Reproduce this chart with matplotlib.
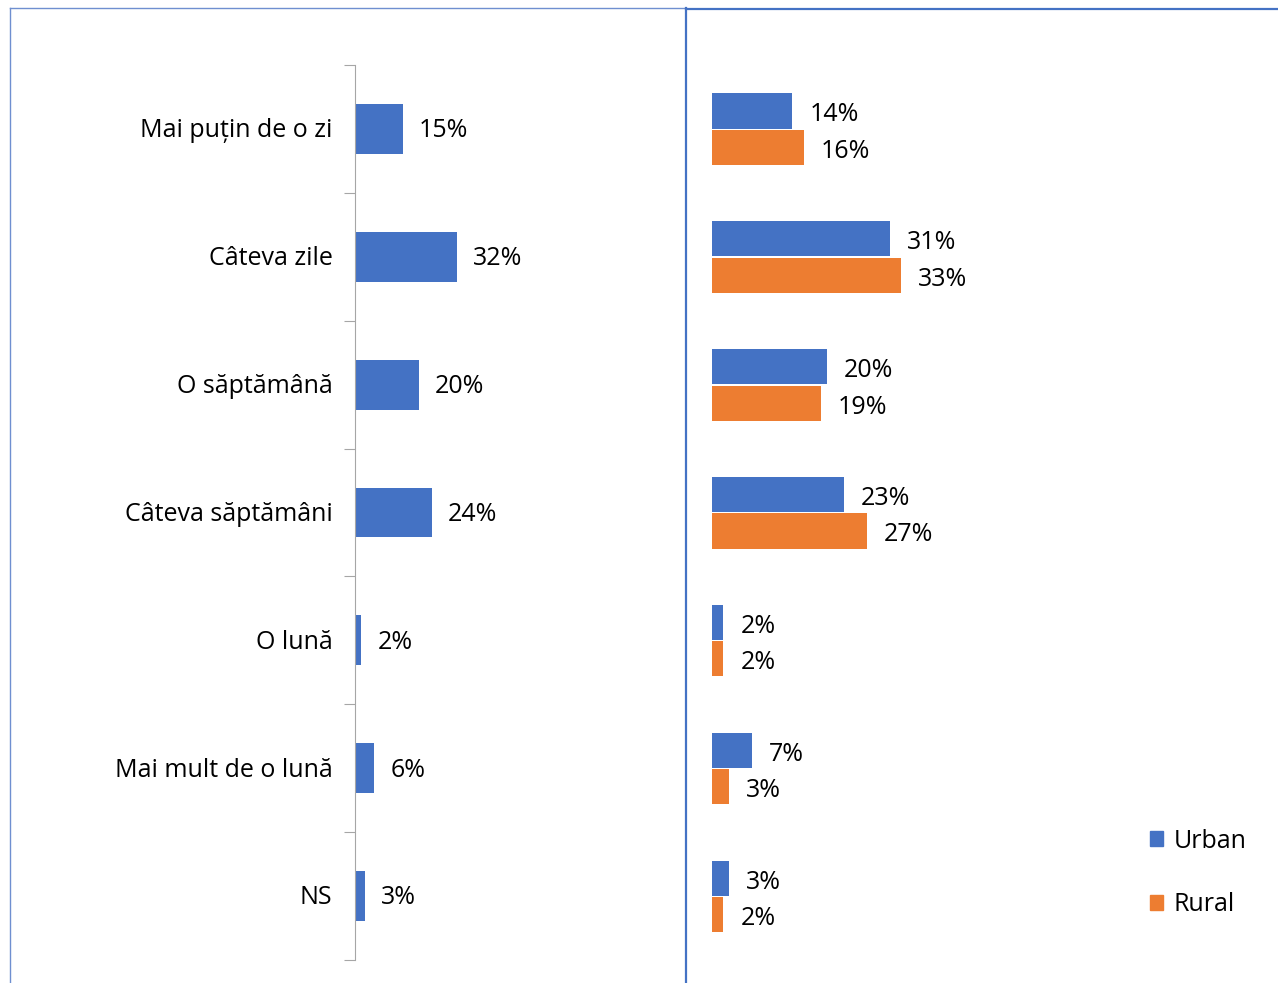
import matplotlib.pyplot as plt
import numpy as np
from matplotlib.lines import Line2D
from matplotlib.patches import Patch

plt.rcParams['font.family'] = ['Open Sans', 'DejaVu Sans']

categories = ['Mai puțin de o zi', 'Câteva zile', 'O săptămână', 'Câteva săptămâni',
              'O lună', 'Mai mult de o lună', 'NS']
total = [15, 32, 20, 24, 2, 6, 3]
urban = [14, 31, 20, 23, 2, 7, 3]
rural = [16, 33, 19, 27, 2, 3, 2]

blue = '#4472C4'
orange = '#ED7D31'
W, H = 1278, 983
fs = 18

fig = plt.figure(figsize=(W / 100, H / 100), dpi=100)

def box(x0, y0, x1, y1):
    return [x0 / W, 1 - y1 / H, (x1 - x0) / W, (y1 - y0) / H]

y = np.arange(len(categories))

# left panel: total
ax1 = fig.add_axes(box(355, 65, 675, 960))
ax1.barh(y, total, height=0.39, color=blue)
ax1.set_xlim(0, 100)
ax1.set_ylim(len(categories) - 0.5, -0.5)
for i, v in enumerate(total):
    ax1.text(v + 5.0, i + 0.015, f'{v}%', va='center', ha='left', fontsize=fs)
for s in ['top', 'right', 'bottom']:
    ax1.spines[s].set_visible(False)
ax1.spines['left'].set_color('#A6A6A6')
ax1.set_xticks([])
ax1.set_yticks(np.arange(-0.5, len(categories), 1))
ax1.set_yticklabels([])
ax1.tick_params(axis='y', length=8, color='#A6A6A6')
for i, c in enumerate(categories):
    ax1.text(-7, i + 0.015, c, ha='right', va='center', fontsize=fs)

# right panel: urban / rural
ax2 = fig.add_axes(box(712, 65, 1272, 960))
ax2.barh(y - 0.14, urban, height=0.275, color=blue, label='Urban')
ax2.barh(y + 0.145, rural, height=0.275, color=orange, label='Rural')
ax2.set_xlim(0, 560 / 5.73)
ax2.set_ylim(len(categories) - 0.5, -0.5)
for i in range(len(categories)):
    ax2.text(urban[i] + 3.0, i - 0.11, f'{urban[i]}%', va='center', ha='left', fontsize=fs)
    ax2.text(rural[i] + 3.0, i + 0.175, f'{rural[i]}%', va='center', ha='left', fontsize=fs)
ax2.axis('off')

handles = [Patch(color=blue, label='Urban'), Patch(color=orange, label='Rural')]
fig.legend(handles=handles, loc='upper left', bbox_to_anchor=(1127 / W, 1 - 806 / H),
           frameon=False, fontsize=fs, handlelength=0.55, handleheight=0.55,
           handletextpad=0.4, labelspacing=1.55)

# panel borders
fig.add_artist(Line2D([10 / W, 10 / W], [0, 1 - 8 / H], color='#6F8FD0', lw=1))
fig.add_artist(Line2D([10 / W, 686 / W], [1 - 8 / H, 1 - 8 / H], color='#6F8FD0', lw=1))
fig.add_artist(Line2D([686 / W, 686 / W], [0, 1 - 8 / H], color='#4472C4', lw=1.6))
fig.add_artist(Line2D([686 / W, 1], [1 - 9 / H, 1 - 9 / H], color='#4472C4', lw=1.6))

fig.savefig('out.png', dpi=100)
